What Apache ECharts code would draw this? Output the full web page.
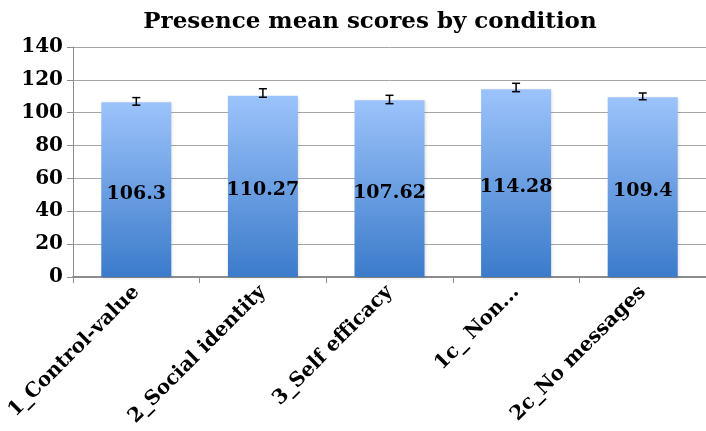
<!DOCTYPE html>
<html>
<head>
<meta charset="utf-8">
<script src="https://cdn.jsdelivr.net/npm/echarts@6/dist/echarts.min.js"></script>
<style>
  html, body { margin: 0; padding: 0; background: #fff; }
  #presenceChart { width: 706px; height: 431px; }
</style>
</head>
<body>
<div id="presenceChart"></div>
<script>
var conditions = ['1_Control-value', '2_Social identity', '3_Self efficacy', '1c_ Non...', '2c_No messages'];
var meanScores = [106.3, 110.27, 107.62, 114.28, 109.4];
var errLow = [104.6, 109.4, 105.5, 112.8, 107.9];
var errHigh = [109.2, 114.6, 110.6, 117.9, 112.0];
var yTicks = [0, 20, 40, 60, 80, 100, 120, 140];

var serif = 'DejaVu Serif';

var presenceChart = echarts.init(document.getElementById('presenceChart'));

var errData = conditions.map(function (c, i) { return [i, errLow[i], errHigh[i]]; });

presenceChart.setOption({
    animation: false,
    title: {
        text: 'Presence mean scores by condition',
        left: 365, textAlign: 'center', top: 6,
        textStyle: { fontFamily: serif, fontWeight: 'bold', fontSize: 23, color: '#000' }
    },
    grid: { left: 73, right: -10, top: 47, bottom: 154 },
    xAxis: {
        type: 'category',
        data: conditions,
        axisLine: { lineStyle: { color: '#8c8c8c', width: 2 } },
        axisTick: { show: true, alignWithLabel: false, length: 6, lineStyle: { color: '#8c8c8c', width: 1 } },
        axisLabel: {
            rotate: 45, margin: 12, interval: 0,
            fontFamily: serif, fontWeight: 'bold', fontSize: 20, color: '#000'
        }
    },
    yAxis: {
        type: 'value',
        min: yTicks[0], max: yTicks[yTicks.length - 1], interval: 20,
        axisLine: { show: true, lineStyle: { color: '#8c8c8c', width: 1 } },
        axisTick: { show: true, length: 6, lineStyle: { color: '#8c8c8c' } },
        splitLine: { lineStyle: { color: '#a6a6a6', width: 1 } },
        axisLabel: { margin: 10, fontFamily: serif, fontWeight: 'bold', fontSize: 20, color: '#000' }
    },
    series: [{
        type: 'bar',
        data: meanScores,
        barWidth: 70,
        itemStyle: {
            color: new echarts.graphic.LinearGradient(0, 0, 0, 1, [
                { offset: 0, color: '#9cc3fb' },
                { offset: 1, color: '#3b7bca' }
            ]),
            shadowColor: 'rgba(0,0,0,0.15)', shadowBlur: 3, shadowOffsetX: 1, shadowOffsetY: 1
        },
        label: {
            show: true, position: 'inside', offset: [0, 4],
            fontFamily: serif, fontWeight: 'bold', fontSize: 19, color: '#000'
        }
    }, {
        type: 'custom',
        data: errData,
        z: 10,
        renderItem: function (params, api) {
            var x = api.coord([api.value(0), 0])[0];
            var lo = api.coord([api.value(0), api.value(1)])[1];
            var hi = api.coord([api.value(0), api.value(2)])[1];
            var w = 4;
            var st = { stroke: '#000', lineWidth: 1.5 };
            return {
                type: 'group',
                children: [
                    { type: 'line', shape: { x1: x, y1: lo, x2: x, y2: hi }, style: st },
                    { type: 'line', shape: { x1: x - w, y1: lo, x2: x + w, y2: lo }, style: st },
                    { type: 'line', shape: { x1: x - w, y1: hi, x2: x + w, y2: hi }, style: st }
                ]
            };
        }
    }]
});
</script>
</body>
</html>
